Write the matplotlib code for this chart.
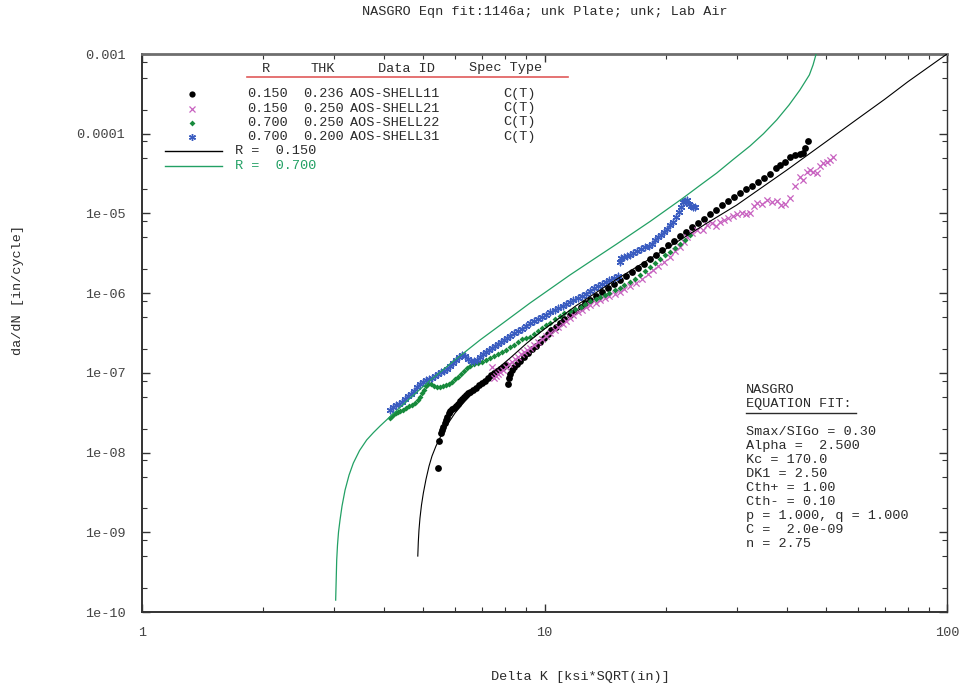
import numpy as np
import matplotlib.pyplot as plt
from matplotlib.lines import Line2D
from matplotlib.ticker import FixedLocator, NullFormatter

plt.rcParams['font.family'] = ['Liberation Mono', 'DejaVu Sans Mono']

# NASGRO fit curves
fit15_k = [4.844, 4.858, 4.877, 4.905, 4.947, 5.000, 5.078, 5.166, 5.254, 5.376, 5.534,
           5.692, 5.993, 6.346, 6.914, 7.462, 8.210, 9.047, 10.0, 12.0, 15.0, 20.0,
           25.0, 30.0, 40.0, 50.0, 60.0, 70.0, 80.0, 100.0]
fit15_dadn = [5.03e-10, 7.54e-10, 1.07e-9, 1.51e-9, 2.19e-9, 3.10e-9, 4.65e-9, 6.77e-9,
              9.04e-9, 1.21e-8, 1.63e-8, 2.12e-8, 3.13e-8, 4.43e-8, 7.03e-8, 1.02e-7,
              1.53e-7, 2.37e-7, 3.55e-7, 7.0e-7, 1.46e-6, 3.57e-6, 7.26e-6, 1.27e-5,
              3.5e-5, 7.9e-5, 1.54e-4, 2.7e-4, 4.5e-4, 1.0e-3]

fit70_k = [3.028, 3.037, 3.046, 3.060, 3.078, 3.104, 3.140, 3.195, 3.269, 3.350, 3.471,
           3.616, 3.758, 3.902, 4.172, 4.607, 5.195, 6.0, 6.914, 7.98, 9.20, 10.33,
           11.57, 13.2, 15.11, 18.3, 22.09, 24.34, 26.78, 29.4, 32.4, 35.0, 37.75,
           40.5, 43.1, 45.5, 46.47, 47.3]
fit70_dadn = [1.41e-10, 2.51e-10, 4.48e-10, 6.91e-10, 1.01e-9, 1.42e-9, 2.13e-9, 3.38e-9,
              5.22e-9, 7.38e-9, 1.06e-8, 1.44e-8, 1.78e-8, 2.15e-8, 2.95e-8, 4.69e-8,
              8.01e-8, 1.46e-7, 2.58e-7, 4.40e-7, 7.5e-7, 1.13e-6, 1.69e-6, 2.63e-6,
              4.13e-6, 7.94e-6, 1.56e-5, 2.25e-5, 3.21e-5, 4.73e-5, 7.01e-5, 1.0e-4,
              1.49e-4, 2.29e-4, 3.53e-4, 5.46e-4, 7.28e-4, 1.0e-3]

# AOS-SHELL11  R=0.150
shell11_k = [5.44, 5.47, 5.53, 5.56, 5.60, 5.66, 5.69, 5.73, 5.79, 5.82, 5.89, 5.96,
             6.03, 6.10, 6.17, 6.24, 6.31, 6.38, 6.45, 6.53, 6.64, 6.76, 6.88, 6.99,
             7.11, 7.24, 7.36, 7.49, 7.62, 7.75, 7.88, 8.02, 8.12, 8.16, 8.21, 8.30,
             8.40, 8.55, 8.70, 8.89, 9.10, 9.31, 9.53, 9.74, 9.97, 10.2, 10.4, 10.7,
             10.9, 11.2, 11.6, 11.9, 12.3, 12.6, 13.0, 13.4, 13.9, 14.4, 14.9, 15.4,
             15.9, 16.5, 17.1, 17.7, 18.3, 18.9, 19.6, 20.3, 21.0, 21.7, 22.5, 23.3,
             24.1, 24.9, 25.8, 26.7, 27.6, 28.6, 29.6, 30.6, 31.7, 32.8, 33.9, 35.1,
             36.3, 37.6, 38.5, 39.6, 40.7, 41.9, 43.1, 43.9, 44.4, 45.2]
shell11_dadn = [6.39e-9, 1.39e-8, 1.76e-8, 1.92e-8, 2.09e-8, 2.34e-8, 2.56e-8, 2.79e-8,
                3.13e-8, 3.32e-8, 3.52e-8, 3.62e-8, 3.83e-8, 4.06e-8, 4.43e-8, 4.69e-8,
                4.97e-8, 5.26e-8, 5.58e-8, 5.74e-8, 6.08e-8, 6.44e-8, 7.03e-8, 7.45e-8,
                7.89e-8, 8.61e-8, 9.38e-8, 9.93e-8, 1.05e-7, 1.12e-7, 1.18e-7, 1.25e-7,
                7.23e-8, 8.61e-8, 9.66e-8, 1.08e-7, 1.18e-7, 1.29e-7, 1.41e-7, 1.58e-7,
                1.77e-7, 1.99e-7, 2.17e-7, 2.43e-7, 2.73e-7, 3.07e-7, 3.44e-7, 3.76e-7,
                4.22e-7, 4.73e-7, 5.31e-7, 5.96e-7, 6.70e-7, 7.51e-7, 8.19e-7, 9.20e-7,
                1.03e-6, 1.16e-6, 1.30e-6, 1.46e-6, 1.64e-6, 1.84e-6, 2.07e-6, 2.32e-6,
                2.68e-6, 3.01e-6, 3.47e-6, 4.02e-6, 4.51e-6, 5.20e-6, 5.85e-6, 6.75e-6,
                7.58e-6, 8.51e-6, 9.82e-6, 1.10e-5, 1.27e-5, 1.43e-5, 1.61e-5, 1.80e-5,
                2.02e-5, 2.21e-5, 2.48e-5, 2.78e-5, 3.12e-5, 3.71e-5, 4.05e-5, 4.42e-5,
                5.10e-5, 5.41e-5, 5.56e-5, 5.73e-5, 6.62e-5, 8.10e-5]

# AOS-SHELL21  R=0.150
shell21_k = [7.41, 7.49, 7.58, 7.66, 7.75, 7.88, 8.02, 8.16, 8.30, 8.45, 8.59, 8.74,
             8.89, 9.05, 9.20, 9.42, 9.64, 9.86, 10.1, 10.3, 10.6, 10.8, 11.1, 11.3,
             11.6, 11.8, 12.1, 12.4, 12.7, 13.0, 13.4, 13.7, 14.1, 14.5, 15.0, 15.4,
             15.8, 16.3, 16.9, 17.5, 18.1, 18.6, 19.1, 19.8, 20.5, 21.1, 21.7, 22.2,
             22.6, 23.3, 23.9, 24.8, 25.3, 26.1, 26.7, 27.3, 27.9, 28.6, 29.4, 30.1,
             31.0, 31.7, 32.4, 33.2, 33.7, 34.7, 35.7, 36.8, 37.8, 38.7, 39.6, 40.7,
             41.9, 43.1, 43.9, 44.9, 45.7, 46.5, 47.5, 48.4, 49.2, 50.3, 51.2, 52.1]
shell21_dadn = [1.18e-7, 8.61e-8, 9.12e-8, 9.66e-8, 1.02e-7, 1.08e-7, 1.18e-7, 1.29e-7,
                1.37e-7, 1.49e-7, 1.58e-7, 1.72e-7, 1.82e-7, 1.93e-7, 2.05e-7, 2.23e-7,
                2.43e-7, 2.65e-7, 2.90e-7, 3.16e-7, 3.44e-7, 3.76e-7, 4.09e-7, 4.47e-7,
                4.88e-7, 5.31e-7, 5.79e-7, 6.14e-7, 6.70e-7, 7.10e-7, 7.51e-7, 8.19e-7,
                8.68e-7, 9.20e-7, 9.75e-7, 1.03e-6, 1.13e-6, 1.23e-6, 1.34e-6, 1.50e-6,
                1.74e-6, 1.95e-6, 2.19e-6, 2.46e-6, 2.84e-6, 3.38e-6, 3.79e-6, 4.38e-6,
                5.06e-6, 5.68e-6, 6.19e-6, 6.19e-6, 7.15e-6, 7.58e-6, 6.95e-6, 7.80e-6,
                8.26e-6, 8.75e-6, 9.27e-6, 9.82e-6, 1.01e-5, 9.82e-6, 1.01e-5, 1.24e-5,
                1.35e-5, 1.31e-5, 1.47e-5, 1.39e-5, 1.43e-5, 1.27e-5, 1.31e-5, 1.56e-5,
                2.21e-5, 2.86e-5, 2.62e-5, 3.31e-5, 3.51e-5, 3.31e-5, 3.21e-5, 3.93e-5,
                4.29e-5, 4.42e-5, 4.68e-5, 5.10e-5]

# AOS-SHELL22  R=0.700
shell22_k = [4.13, 4.18, 4.23, 4.28, 4.33, 4.38, 4.45, 4.53, 4.61, 4.69, 4.77, 4.85,
             4.91, 4.96, 5.02, 5.08, 5.14, 5.22, 5.31, 5.41, 5.50, 5.60, 5.69, 5.79,
             5.89, 5.99, 6.10, 6.20, 6.31, 6.42, 6.53, 6.68, 6.84, 6.99, 7.16, 7.32,
             7.49, 7.66, 7.84, 8.02, 8.21, 8.40, 8.59, 8.79, 8.99, 9.20, 9.42, 9.64,
             9.86, 10.1, 10.3, 10.6, 10.9, 11.2, 11.6, 11.9, 12.3, 12.6, 13.0, 13.4,
             13.7, 14.1, 14.5, 15.0, 15.4, 15.8, 16.3, 16.8, 17.3, 17.8, 18.3, 18.8,
             19.4, 19.9, 20.5, 21.1, 21.7, 22.3, 23.0]
shell22_dadn = [2.71e-8, 2.87e-8, 3.04e-8, 3.13e-8, 3.22e-8, 3.32e-8, 3.41e-8, 3.62e-8,
                3.83e-8, 3.94e-8, 4.18e-8, 4.56e-8, 4.97e-8, 5.58e-8, 6.08e-8, 6.83e-8,
                7.23e-8, 7.23e-8, 6.83e-8, 6.64e-8, 6.64e-8, 6.83e-8, 7.03e-8, 7.23e-8,
                7.66e-8, 8.36e-8, 8.85e-8, 9.66e-8, 1.05e-7, 1.15e-7, 1.22e-7, 1.29e-7,
                1.33e-7, 1.37e-7, 1.45e-7, 1.53e-7, 1.63e-7, 1.72e-7, 1.82e-7, 1.93e-7,
                2.11e-7, 2.23e-7, 2.43e-7, 2.65e-7, 2.73e-7, 2.81e-7, 3.07e-7, 3.34e-7,
                3.65e-7, 3.98e-7, 4.22e-7, 4.73e-7, 5.16e-7, 5.62e-7, 5.96e-7, 6.31e-7,
                6.70e-7, 7.30e-7, 7.96e-7, 8.43e-7, 8.93e-7, 9.46e-7, 1.00e-6, 1.09e-6,
                1.16e-6, 1.26e-6, 1.38e-6, 1.50e-6, 1.69e-6, 1.89e-6, 2.13e-6, 2.39e-6,
                2.68e-6, 3.01e-6, 3.28e-6, 3.68e-6, 4.13e-6, 4.63e-6, 5.36e-6]

# AOS-SHELL31  R=0.700
shell31_k = [4.13, 4.20, 4.28, 4.35, 4.43, 4.50, 4.58, 4.66, 4.74, 4.82, 4.91, 4.99,
             5.08, 5.17, 5.25, 5.35, 5.44, 5.53, 5.63, 5.73, 5.82, 5.93, 6.03, 6.13,
             6.24, 6.35, 6.45, 6.57, 6.68, 6.80, 6.92, 7.04, 7.16, 7.28, 7.41, 7.53,
             7.66, 7.80, 7.93, 8.07, 8.21, 8.40, 8.59, 8.79, 8.99, 9.20, 9.42, 9.64,
             9.86, 10.1, 10.3, 10.6, 10.8, 11.1, 11.3, 11.6, 11.8, 12.1, 12.4, 12.7,
             13.0, 13.3, 13.6, 13.9, 14.2, 14.5, 14.9, 15.2, 15.4, 15.5, 15.8, 16.0,
             16.3, 16.6, 17.0, 17.4, 17.8, 18.2, 18.5, 18.8, 19.1, 19.5, 19.8, 20.2,
             20.5, 20.9, 21.2, 21.6, 21.8, 22.1, 22.3, 22.6, 22.9, 23.1, 23.4, 23.7]
shell31_dadn = [3.41e-8, 3.72e-8, 3.94e-8, 4.06e-8, 4.31e-8, 4.69e-8, 5.12e-8, 5.42e-8,
                5.91e-8, 6.64e-8, 7.23e-8, 7.66e-8, 8.13e-8, 8.36e-8, 8.61e-8, 9.12e-8,
                9.66e-8, 1.02e-7, 1.05e-7, 1.12e-7, 1.22e-7, 1.33e-7, 1.45e-7, 1.58e-7,
                1.67e-7, 1.63e-7, 1.49e-7, 1.41e-7, 1.41e-7, 1.45e-7, 1.58e-7, 1.72e-7,
                1.82e-7, 1.93e-7, 2.05e-7, 2.17e-7, 2.30e-7, 2.43e-7, 2.58e-7, 2.73e-7,
                2.90e-7, 3.16e-7, 3.34e-7, 3.54e-7, 3.86e-7, 4.22e-7, 4.47e-7, 4.73e-7,
                5.01e-7, 5.31e-7, 5.79e-7, 6.14e-7, 6.50e-7, 6.89e-7, 7.30e-7, 7.73e-7,
                8.19e-7, 8.68e-7, 9.20e-7, 9.75e-7, 1.06e-6, 1.16e-6, 1.23e-6, 1.30e-6,
                1.38e-6, 1.46e-6, 1.55e-6, 1.64e-6, 2.46e-6, 2.76e-6, 2.84e-6, 2.92e-6,
                3.01e-6, 3.18e-6, 3.38e-6, 3.57e-6, 3.79e-6, 3.90e-6, 4.13e-6, 4.63e-6,
                5.06e-6, 5.36e-6, 5.85e-6, 6.37e-6, 7.15e-6, 7.80e-6, 9.02e-6, 1.04e-5,
                1.20e-5, 1.39e-5, 1.43e-5, 1.47e-5, 1.31e-5, 1.24e-5, 1.20e-5, 1.20e-5]

legend_rows = [("0.150", "0.236", "AOS-SHELL11", "C(T)"),
               ("0.150", "0.250", "AOS-SHELL21", "C(T)"),
               ("0.700", "0.250", "AOS-SHELL22", "C(T)"),
               ("0.700", "0.200", "AOS-SHELL31", "C(T)")]
fit_box = ["Smax/SIGo = 0.30", "Alpha =  2.500", "Kc = 170.0", "DK1 = 2.50",
           "Cth+ = 1.00", "Cth- = 0.10", "p = 1.000, q = 1.000", "C =  2.0e-09",
           "n = 2.75"]
ytick_vals = [1e-10, 1e-9, 1e-8, 1e-7, 1e-6, 1e-5, 1e-4, 1e-3]
ytick_labels = ["1e-10", "1e-09", "1e-08", "1e-07", "1e-06", "1e-05", "0.0001", "0.001"]

W, H = 963, 689
TXT = '#2b2b2b'
FS = 9.7
black_c, pink_c, green_c, blue_c = 'black', '#c862c0', '#178a3c', '#3a5cc0'
fit70_c = '#22a064'


def fx(x):
    return x / W


def fy(y):
    return 1 - y / H


fig = plt.figure(figsize=(W / 100, H / 100), dpi=100)
ax = fig.add_axes([fx(142), fy(612), (947 - 142) / W, (612 - 54) / H])
ax.set_xscale('log')
ax.set_yscale('log')

ax.scatter(shell11_k, shell11_dadn, s=24, marker='o', color=black_c, linewidths=0, zorder=3)
ax.scatter(shell21_k, shell21_dadn, s=20, marker='x', color=pink_c, linewidths=0.9, zorder=3)
ax.scatter(shell22_k, shell22_dadn, s=9, marker='D', color=green_c, linewidths=0, zorder=3)
ax.scatter(shell31_k, shell31_dadn, s=22, marker=(6, 2, 0), color=blue_c, linewidths=1.0, zorder=3)
ax.plot(fit15_k, fit15_dadn, color='black', lw=0.8, zorder=4)
ax.plot(fit70_k, fit70_dadn, color=fit70_c, lw=0.9, zorder=4)

ax.set_xlim(1, 100)
ax.set_ylim(1e-10, 1e-3)
ax.xaxis.set_major_locator(FixedLocator([1, 10, 100]))
ax.set_xticklabels(['1', '10', '100'])
ax.xaxis.set_minor_locator(FixedLocator([m * 10 ** e for e in (0, 1) for m in range(2, 10)]))
ax.xaxis.set_minor_formatter(NullFormatter())
ax.yaxis.set_major_locator(FixedLocator(ytick_vals))
ax.set_yticklabels(ytick_labels)
ax.yaxis.set_minor_locator(FixedLocator([m * 10.0 ** e for e in range(-10, -3) for m in (2, 5, 8)]))
ax.yaxis.set_minor_formatter(NullFormatter())
ax.tick_params(which='both', direction='in', top=True, right=True, colors='#333333',
               labelcolor='#444444', labelsize=FS)
ax.tick_params(which='major', length=6, width=1)
ax.tick_params(which='minor', length=3.5, width=0.8)
ax.tick_params(axis='x', pad=11)
ax.tick_params(axis='y', pad=12)
for side, c, w in [('left', '#333333', 1.4), ('bottom', '#333333', 1.4),
                   ('top', '#6e6e6e', 2.0), ('right', '#333333', 1.0)]:
    ax.spines[side].set_color(c)
    ax.spines[side].set_linewidth(w)

fig.text(fx(545), fy(12), "NASGRO Eqn fit:1146a; unk Plate; unk; Lab Air",
         ha='center', va='center', fontsize=FS, color=TXT)
fig.text(fx(580), fy(677), "Delta K [ksi*SQRT(in)]", ha='center', va='center',
         fontsize=FS, color=TXT)
fig.text(fx(18), fy(290), "da/dN [in/cycle]", ha='center', va='center',
         rotation=90, fontsize=FS, color=TXT)

# legend block
for cx, label in [(266, "R"), (323, "THK"), (406, "Data ID"), (505.5, "Spec Type")]:
    fig.text(fx(cx), fy(68.5), label, ha='center', va='center', fontsize=FS, color=TXT)
fig.add_artist(Line2D([fx(246.7), fx(568)], [fy(76.7), fy(76.7)], color='#e05a5a', lw=1.2))

row_y = [94, 108.5, 122.5, 137]
markers = [dict(marker='o', ms=4.5, color=black_c, mew=0),
           dict(marker='x', ms=4.5, color=pink_c, mew=0.9),
           dict(marker='D', ms=3, color=green_c, mew=0),
           dict(marker=(6, 2, 0), ms=5, color=blue_c, mew=1.0)]
for y, row, mk in zip(row_y, legend_rows, markers):
    fig.add_artist(Line2D([fx(192)], [fy(y)], ls='none', **mk))
    for x, txt in zip([246.7, 303, 350, 503], row):
        fig.text(fx(x), fy(y), txt, ha='left', va='center', fontsize=FS, color=TXT)

for y, c, txt in [(151, 'black', "R =  0.150"), (166, fit70_c, "R =  0.700")]:
    fig.add_artist(Line2D([fx(165), fx(222)], [fy(y), fy(y)], color=c, lw=1.0))
    fig.text(fx(235), fy(y), txt, ha='left', va='center', fontsize=FS,
             color=TXT if c == 'black' else c)

# NASGRO equation fit box
fig.text(fx(746), fy(390), "NASGRO", ha='left', va='center', fontsize=FS, color=TXT)
fig.text(fx(746), fy(403.5), "EQUATION FIT:", ha='left', va='center', fontsize=FS, color=TXT)
fig.add_artist(Line2D([fx(746), fx(856)], [fy(413.3), fy(413.3)], color=TXT, lw=1.0))
for i, line in enumerate(fit_box):
    fig.text(fx(746), fy(431.7 + i * 14.0), line, ha='left', va='center',
             fontsize=FS, color=TXT)

fig.savefig('out.png', dpi=100)
